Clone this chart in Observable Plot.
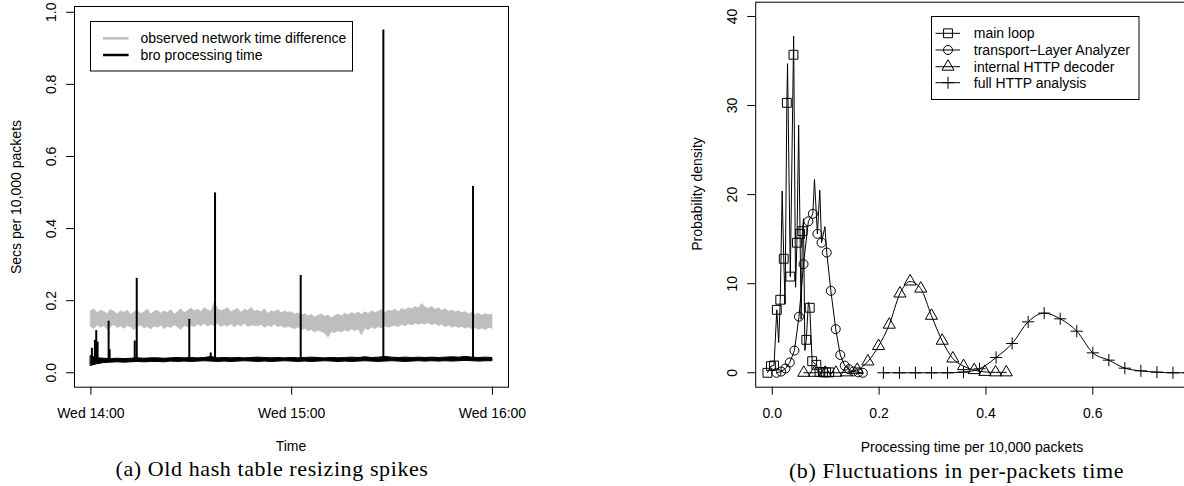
<!DOCTYPE html>
<html><head><meta charset="utf-8">
<script src="https://cdn.jsdelivr.net/npm/d3@7"></script>
<script src="https://cdn.jsdelivr.net/npm/@observablehq/plot@0.6"></script>
<style>
html,body{margin:0;padding:0;background:#fff;overflow:hidden;}
#wrap{position:relative;width:1184px;height:486px;overflow:hidden;background:#fff;font-family:"Liberation Sans",Arial,sans-serif;color:#000;}
.abs{position:absolute;white-space:nowrap;line-height:1;}
.lab{font-size:14px;transform:translate(-50%,-50%);}
.rot{font-size:14px;transform:translate(-50%,-50%) rotate(-90deg);}
.cap{font-family:"Liberation Serif","Times New Roman",serif;font-size:22px;letter-spacing:0.6px;transform:translate(-50%,-50%);}
svg.plt{position:absolute;top:0;overflow:visible;}
</style></head><body><div id="wrap"></div>
<script>
// ---------------- Panel (a): time series ----------------
// minutes after 14:00, one sample per minute (0..120)
const grayHigh = [
0.170,0.176,0.165,0.172,0.168,0.163,0.174,0.169,0.161,0.171,
0.166,0.173,0.160,0.168,0.171,0.163,0.167,0.175,0.162,0.169,
0.172,0.164,0.170,0.166,0.174,0.161,0.168,0.176,0.165,0.171,
0.178,0.170,0.175,0.168,0.180,0.173,0.169,0.195,0.176,0.171,
0.174,0.179,0.168,0.173,0.177,0.166,0.175,0.171,0.180,0.169,
0.172,0.167,0.176,0.163,0.171,0.168,0.174,0.165,0.170,0.166,
0.168,0.161,0.165,0.158,0.163,0.156,0.160,0.153,0.158,0.162,
0.155,0.159,0.151,0.157,0.162,0.156,0.164,0.159,0.166,0.161,
0.167,0.160,0.168,0.163,0.171,0.165,0.169,0.174,0.166,0.172,
0.170,0.175,0.168,0.177,0.173,0.179,0.176,0.182,0.178,0.191,
0.181,0.177,0.183,0.174,0.179,0.172,0.176,0.169,0.173,0.167,
0.171,0.165,0.168,0.162,0.166,0.160,0.164,0.158,0.163,0.159,
0.161];
const grayLow = [
0.128,0.121,0.132,0.125,0.130,0.119,0.127,0.133,0.124,0.129,
0.122,0.130,0.126,0.118,0.128,0.131,0.123,0.127,0.120,0.129,
0.125,0.131,0.121,0.128,0.124,0.132,0.126,0.119,0.130,0.127,
0.131,0.126,0.134,0.129,0.136,0.128,0.133,0.130,0.135,0.127,
0.132,0.128,0.135,0.126,0.133,0.129,0.136,0.127,0.131,0.130,
0.129,0.133,0.125,0.131,0.127,0.134,0.126,0.130,0.124,0.128,
0.125,0.121,0.126,0.118,0.122,0.115,0.119,0.112,0.117,0.113,
0.109,0.098,0.113,0.110,0.116,0.112,0.118,0.114,0.120,0.116,
0.121,0.104,0.123,0.118,0.126,0.121,0.127,0.123,0.129,0.125,
0.128,0.131,0.126,0.133,0.129,0.135,0.131,0.137,0.133,0.136,
0.134,0.138,0.132,0.136,0.130,0.133,0.127,0.131,0.125,0.129,
0.124,0.128,0.122,0.126,0.120,0.124,0.119,0.123,0.118,0.125,
0.122];
// bro processing time band, one sample every 2 minutes (0..120)
const broLow = [
0.019,0.024,0.027,0.028,0.029,0.028,0.029,0.030,0.029,0.030,
0.030,0.029,0.031,0.030,0.031,0.030,0.031,0.032,0.031,0.030,
0.031,0.030,0.031,0.032,0.031,0.030,0.031,0.030,0.031,0.032,
0.031,0.030,0.031,0.030,0.031,0.032,0.031,0.030,0.031,0.030,
0.031,0.032,0.031,0.030,0.031,0.032,0.031,0.030,0.031,0.032,
0.031,0.032,0.031,0.032,0.031,0.032,0.033,0.032,0.031,0.032,
0.032];
const broHigh = [
0.046,0.040,0.039,0.038,0.039,0.038,0.039,0.040,0.039,0.040,
0.040,0.039,0.040,0.041,0.040,0.041,0.040,0.041,0.044,0.040,
0.041,0.040,0.041,0.040,0.041,0.042,0.041,0.040,0.041,0.040,
0.041,0.040,0.041,0.042,0.041,0.040,0.041,0.040,0.041,0.042,
0.041,0.043,0.041,0.042,0.044,0.042,0.041,0.042,0.041,0.042,
0.041,0.042,0.041,0.042,0.043,0.042,0.044,0.042,0.041,0.042,
0.041];
// spikes: minutes after 14:00 and peak value
const spikeMinutes = [0.3, 1.2, 1.6, 2.0, 5.3, 5.6, 13.1, 13.7, 29.4, 35.8, 37.1, 62.7, 87.4, 114.2];
const spikePeaks   = [0.068, 0.090, 0.117, 0.085, 0.143, 0.064, 0.088, 0.262, 0.148, 0.055, 0.499, 0.270, 0.951, 0.517];
const leftXTickMinutes = [0, 60, 120];
const leftXTickLabels = ["Wed 14:00", "Wed 15:00", "Wed 16:00"];
const leftYTicks = [0, 0.2, 0.4, 0.6, 0.8, 1.0];
const leftSeries = ["observed network time difference", "bro processing time"];

// ---------------- Panel (b): densities ----------------
const mainLineX = [-0.009,-0.0025,0.0033,0.0085,0.012,0.015,0.0185,0.0215,0.024,0.0273,0.0286,0.0338,0.040,0.0436,0.0462,0.0494,0.052,0.054,0.0565,0.0585,0.061,0.0637,0.0676,0.0702,0.0747,0.0825,0.0884,0.0949,0.1007,0.1066];
const mainLineY = [0,0.75,0.82,7.07,3.4,8.2,20.4,12.8,7.7,30.3,34.7,10.8,37.8,9.6,14.6,27.8,15.6,6.0,15.9,17.3,2.5,3.7,7.9,7.3,1.3,0.9,0.1,0.05,0.05,0.05];
const mainMarkX = [-0.009,-0.0025,0.0033,0.0085,0.015,0.0215,0.0273,0.0338,0.0397,0.0462,0.052,0.0565,0.0637,0.0702,0.0747,0.0825,0.0884,0.0949,0.1007,0.1066];
const mainMarkY = [0,0.75,0.82,7.07,8.2,12.8,30.3,10.8,35.7,14.6,15.6,15.9,3.7,7.3,1.3,0.9,0.1,0.05,0.05,0.05];
const transLineX = [0.0079,0.0166,0.0247,0.0328,0.0415,0.050,0.0585,0.0676,0.076,0.079,0.0845,0.089,0.0922,0.0985,0.102,0.1097,0.1188,0.1273,0.1357,0.1435,0.152,0.161,0.1695];
const transLineY = [0,0.14,0.48,1.16,2.5,6.3,12.2,17.0,17.85,21.7,15.6,20.5,14.6,16.4,13.5,9.2,4.9,2.0,0.8,0.4,0.15,0.05,0];
const transMarkX = [0.0079,0.0166,0.0247,0.0328,0.0415,0.050,0.0585,0.0676,0.076,0.0845,0.0922,0.102,0.1097,0.1188,0.1273,0.1357,0.1435,0.152,0.161,0.1695];
const transMarkY = [0,0.14,0.48,1.16,2.5,6.3,12.2,17.0,17.85,15.6,14.6,13.5,9.2,4.9,2.0,0.8,0.4,0.15,0.05,0];
const httpX = [0.059,0.079,0.099,0.119,0.139,0.159,0.179,0.199,0.219,0.239,0.258,0.278,0.298,0.318,0.338,0.358,0.378,0.398,0.418,0.438];
const httpY = [0,0,0,0,0.05,0.33,1.27,3.0,5.4,8.9,10.25,9.45,6.4,3.6,1.6,0.75,0.3,0.1,0.05,0.05];
const fullX = [0.208,0.238,0.268,0.298,0.328,0.358,0.388,0.419,0.449,0.479,0.509,0.539,0.570,0.600,0.630,0.660,0.690,0.720,0.750,0.780];
const fullY = [0,0,0,0,0,0.08,0.45,1.72,3.29,5.72,6.7,6.06,4.67,2.24,1.42,0.52,0.22,0.07,0,0];
const rightXTicks = [0, 0.2, 0.4, 0.6];
const rightYTicks = [0, 10, 20, 30, 40];
const rightSeries = ["main loop", "transport\u2212Layer Analyzer", "internal HTTP decoder", "full HTTP analysis"];

// ---------------- build ----------------
const wrap = document.getElementById("wrap");
const at = m => new Date(2005, 2, 2, 14, 0, Math.round(m * 60));
const font = {fontFamily: "Liberation Sans, Arial, sans-serif", fontSize: "14px", background: "transparent", color: "#000", overflow: "visible"};

const grayRows = grayHigh.map((h, i) => ({t: at(i), lo: grayLow[i], hi: h}));
const broRows = broHigh.map((h, i) => ({t: at(2 * i), lo: broLow[i], hi: h}));
const spikeRows = spikeMinutes.map((m, i) => ({t: at(m), peak: spikePeaks[i]}));
const xTickDates = leftXTickMinutes.map(at);

const left = Plot.plot({
  width: 530, height: 460,
  marginLeft: 74, marginRight: 22, marginTop: 6, marginBottom: 73.3,
  style: font,
  x: {type: "time", domain: [at(-4.9), at(124.8)]},
  y: {domain: [-0.04, 1.016]},
  marks: [
    Plot.areaY(grayRows, {x: "t", y1: "lo", y2: "hi", fill: "#bebebe", stroke: "#bebebe", strokeWidth: 0.8}),
    Plot.areaY(broRows, {x: "t", y1: "lo", y2: "hi", fill: "#000", stroke: "#000", strokeWidth: 1}),
    Plot.ruleX(spikeRows, {x: "t", y1: 0.035, y2: "peak", stroke: "#000", strokeWidth: 2}),
    Plot.frame({stroke: "#000"}),
    Plot.axisX({ticks: xTickDates, tickFormat: d => leftXTickLabels[xTickDates.findIndex(t => +t === +d)], tickSize: 8, tickPadding: 13, label: null}),
    Plot.axisY({ticks: leftYTicks, tickFormat: d3.format(".1f"), tickSize: 8, tickRotate: -90, tickPadding: 11, label: null})
  ]
});
left.classList.add("plt");
left.style.left = "0px";
wrap.appendChild(left);

const rows = (xs, ys) => xs.map((x, i) => ({x, y: ys[i]}));
const right = Plot.plot({
  width: 560, height: 460,
  marginLeft: 115.2, marginRight: 11, marginTop: 1.7, marginBottom: 73.3,
  style: font,
  x: {domain: [-0.031, 0.781]},
  y: {domain: [-1.617, 41.6]},
  marks: [
    Plot.line(rows(mainLineX, mainLineY), {x: "x", y: "y", stroke: "#000", strokeWidth: 1}),
    Plot.dot(rows(mainMarkX, mainMarkY), {x: "x", y: "y", symbol: "square", r: 5, stroke: "#000", fill: "none", strokeWidth: 1}),
    Plot.line(rows(transLineX, transLineY), {x: "x", y: "y", stroke: "#000", strokeWidth: 1}),
    Plot.dot(rows(transMarkX, transMarkY), {x: "x", y: "y", symbol: "circle", r: 4.5, stroke: "#000", fill: "none", strokeWidth: 1}),
    Plot.line(rows(httpX, httpY), {x: "x", y: "y", stroke: "#000", strokeWidth: 1, curve: "monotone-x"}),
    Plot.dot(rows(httpX, httpY), {x: "x", y: "y", symbol: "triangle", r: 4.5, stroke: "#000", fill: "none", strokeWidth: 1}),
    Plot.line(rows(fullX, fullY), {x: "x", y: "y", stroke: "#000", strokeWidth: 1, curve: "monotone-x"}),
    Plot.dot(rows(fullX, fullY), {x: "x", y: "y", symbol: "plus", r: 4, stroke: "#000", strokeWidth: 1}),
    Plot.frame({stroke: "#000"}),
    Plot.axisX({ticks: rightXTicks, tickFormat: d3.format(".1f"), tickSize: 8, tickPadding: 13, label: null}),
    Plot.axisY({ticks: rightYTicks, tickFormat: d3.format("d"), tickSize: 8, tickRotate: -90, tickPadding: 11, label: null})
  ]
});
right.classList.add("plt");
right.style.left = "640px";
wrap.appendChild(right);

// axis titles and captions
function addText(cls, txt, x, y) {
  const d = document.createElement("div");
  d.className = "abs " + cls;
  d.textContent = txt;
  d.style.left = x + "px"; d.style.top = y + "px";
  wrap.appendChild(d);
}
addText("rot", "Secs per 10,000 packets", 16, 197);
addText("lab", "Time", 291, 446);
addText("cap", "(a) Old hash table resizing spikes", 272, 469);
addText("rot", "Probability density", 697, 194);
addText("lab", "Processing time per 10,000 packets", 972, 446.5);
addText("cap", "(b) Fluctuations in per-packets time", 956.5, 471);

// legends (overlay)
const ov = d3.select(wrap).append("svg")
  .attr("width", 1184).attr("height", 486)
  .style("position", "absolute").style("left", 0).style("top", 0)
  .style("font-family", "Liberation Sans, Arial, sans-serif").style("font-size", "14px");

// legend (a)
ov.append("rect").attr("x", 90.5).attr("y", 21.5).attr("width", 262).attr("height", 49.5)
  .attr("fill", "#fff").attr("stroke", "#000");
const legA = [{c: "#bebebe", y: 38.3}, {c: "#000", y: 55}];
legA.forEach((e, i) => {
  ov.append("line").attr("x1", 103).attr("x2", 128.6).attr("y1", e.y).attr("y2", e.y)
    .attr("stroke", e.c).attr("stroke-width", 2.5);
  ov.append("text").attr("x", 140.4).attr("y", e.y).attr("dy", "0.35em").text(leftSeries[i]);
});

// legend (b)
ov.append("rect").attr("x", 931.5).attr("y", 16.5).attr("width", 207.5).attr("height", 83)
  .attr("fill", "#fff").attr("stroke", "#000");
const legB = [
  {y: 33.3, sym: d3.symbolSquare, r: 5},
  {y: 50, sym: d3.symbolCircle, r: 4.5},
  {y: 66.7, sym: d3.symbolTriangle, r: 4.5},
  {y: 82.7, sym: d3.symbolPlus, r: 4}
];
legB.forEach((e, i) => {
  ov.append("line").attr("x1", 935.6).attr("x2", 960).attr("y1", e.y).attr("y2", e.y)
    .attr("stroke", "#000").attr("stroke-width", 1);
  ov.append("path").attr("d", d3.symbol(e.sym, e.r * e.r * Math.PI)())
    .attr("transform", `translate(948,${e.y})`)
    .attr("fill", "none").attr("stroke", "#000").attr("stroke-width", 1);
  ov.append("text").attr("x", 973.8).attr("y", e.y).attr("dy", "0.35em").text(rightSeries[i]);
});
</script></body></html>
